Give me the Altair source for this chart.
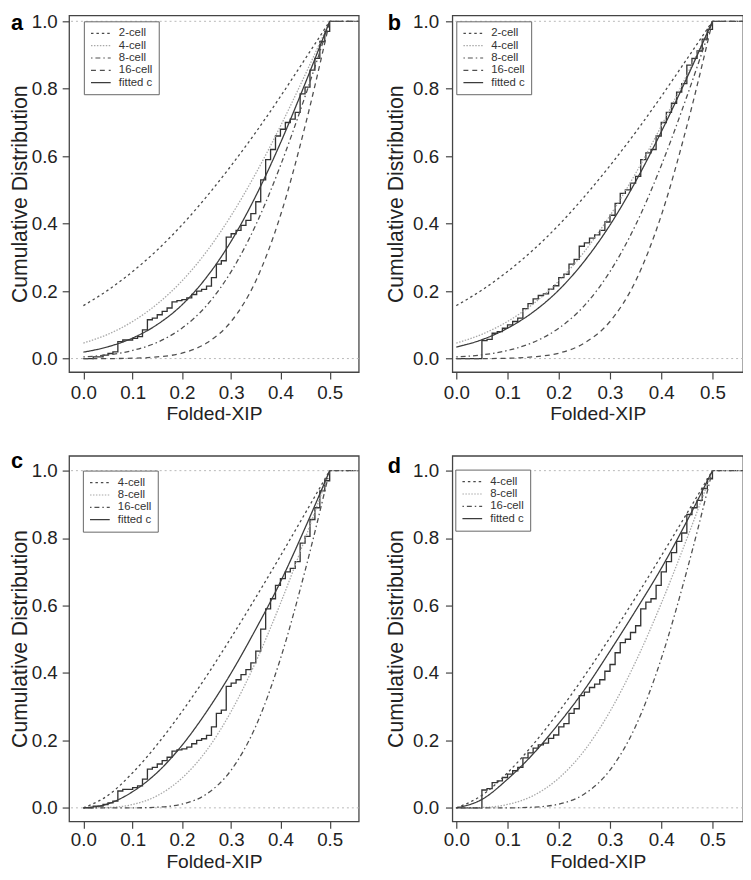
import altair as alt
import pandas as pd

# ---------------- values ----------------
X_CURVE = [0.00, 0.05, 0.10, 0.15, 0.20, 0.25, 0.30, 0.35, 0.40, 0.45, 0.50]
X_TAIL = [0.50, 0.60]
Y_TAIL = [1.0, 1.0]

# panels a / b : model curves
AB_2CELL  = [0.157, 0.203, 0.258, 0.322, 0.396, 0.480, 0.572, 0.671, 0.777, 0.888, 1.0]
AB_4CELL  = [0.046, 0.072, 0.110, 0.162, 0.230, 0.317, 0.424, 0.549, 0.689, 0.841, 1.0]
AB_8CELL  = [0.005, 0.011, 0.024, 0.048, 0.090, 0.157, 0.258, 0.396, 0.572, 0.777, 1.0]
AB_16CELL = [0.000, 0.000, 0.001, 0.005, 0.016, 0.046, 0.110, 0.230, 0.424, 0.689, 1.0]
A_FIT     = [0.019, 0.035, 0.061, 0.101, 0.159, 0.241, 0.348, 0.482, 0.639, 0.815, 1.0]
B_FIT     = [0.034, 0.056, 0.090, 0.138, 0.203, 0.289, 0.396, 0.525, 0.672, 0.832, 1.0]

# panels c / d : model curves
CD_4CELL  = [0.000, 0.037, 0.104, 0.188, 0.285, 0.391, 0.505, 0.624, 0.747, 0.873, 1.0]
CD_8CELL  = [0.000, 0.001, 0.010, 0.036, 0.088, 0.170, 0.286, 0.433, 0.606, 0.798, 1.0]
CD_16CELL = [0.000, 0.000, 0.000, 0.002, 0.011, 0.041, 0.112, 0.242, 0.442, 0.703, 1.0]
C_FIT     = [0.000, 0.012, 0.048, 0.105, 0.185, 0.285, 0.400, 0.530, 0.670, 0.830, 1.0]
D_FIT     = [0.000, 0.025, 0.085, 0.160, 0.250, 0.350, 0.465, 0.585, 0.710, 0.850, 1.0]

# empirical cumulative distributions (step functions)
X_ECDF = [0.00, 0.01, 0.02, 0.03, 0.04, 0.05, 0.06, 0.07, 0.08, 0.09,
          0.10, 0.11, 0.12, 0.13, 0.14, 0.15, 0.16, 0.17, 0.18, 0.19,
          0.20, 0.21, 0.22, 0.23, 0.24, 0.25, 0.26, 0.27, 0.28, 0.29,
          0.30, 0.31, 0.32, 0.33, 0.34, 0.35, 0.36, 0.37, 0.38, 0.39,
          0.40, 0.41, 0.42, 0.43, 0.44, 0.45, 0.46, 0.47, 0.48, 0.49, 0.50]
ECDF_AC = [0.000, 0.000, 0.005, 0.005, 0.010, 0.015, 0.020, 0.050, 0.055, 0.055,
           0.060, 0.065, 0.085, 0.115, 0.120, 0.130, 0.140, 0.150, 0.168, 0.172,
           0.175, 0.180, 0.190, 0.200, 0.205, 0.215, 0.240, 0.280, 0.290, 0.360,
           0.370, 0.380, 0.395, 0.410, 0.430, 0.465, 0.530, 0.590, 0.620, 0.660,
           0.680, 0.700, 0.710, 0.730, 0.785, 0.805, 0.855, 0.890, 0.940, 0.970, 1.000]
ECDF_BD = [0.000, 0.000, 0.000, 0.000, 0.000, 0.053, 0.057, 0.075, 0.080, 0.090,
           0.100, 0.110, 0.120, 0.148, 0.163, 0.177, 0.187, 0.192, 0.206, 0.216,
           0.240, 0.250, 0.280, 0.294, 0.333, 0.343, 0.357, 0.367, 0.380, 0.405,
           0.425, 0.460, 0.490, 0.500, 0.520, 0.540, 0.590, 0.610, 0.620, 0.660,
           0.700, 0.730, 0.757, 0.790, 0.815, 0.870, 0.890, 0.912, 0.947, 0.976, 1.000]

LEVELS = [0.0, 1.0]
X_TICKS = [0.0, 0.1, 0.2, 0.3, 0.4, 0.5]
Y_TICKS = [0.0, 0.2, 0.4, 0.6, 0.8, 1.0]

AB_ORDER = ["2-cell", "4-cell", "8-cell", "16-cell", "fitted c"]
CD_ORDER = ["4-cell", "8-cell", "16-cell", "fitted c"]

# ---------------- styles ----------------
AB_COLORS = ["#4a4a4a", "#a8a8a8", "#505050", "#505050", "#3c3c3c"]
AB_DASHES = [[2.5, 3], [1.5, 1.5], [1.5, 3, 5, 3], [5, 4], [1, 0]]
CD_COLORS = ["#4a4a4a", "#a8a8a8", "#505050", "#3c3c3c"]
CD_DASHES = [[2.5, 3], [1.5, 1.5], [1.5, 3, 5, 3], [1, 0]]

FONT = "Liberation Sans"
TXT = "#222222"


def panel(label, series, order, colors, dashes, ecdf_y, xdom, ydom, w, h,
          y_lp, y_tp, x_lp, x_tp, leg_xy, lab_xy):
    xs = alt.Scale(domain=xdom, nice=False, zero=False)
    ys = alt.Scale(domain=ydom, nice=False, zero=False)
    xaxis = alt.Axis(values=X_TICKS, format=".1f", title="Folded-XIP",
                     grid=False, domain=False, tickSize=7, tickWidth=1.2,
                     tickColor="#444444", labelFontSize=19, labelColor=TXT,
                     labelPadding=x_lp, labelFlush=False, labelOverlap=False,
                     titleFontSize=19.5, titleFontWeight="normal",
                     titleColor=TXT, titlePadding=x_tp)
    yaxis = alt.Axis(values=Y_TICKS, format=".1f",
                     title="Cumulative Distribution", grid=False,
                     domain=False, tickSize=7, tickWidth=1.2,
                     tickColor="#444444", labelFontSize=19, labelColor=TXT,
                     labelPadding=y_lp, labelFlush=False, labelOverlap=False,
                     titleFontSize=21.5, titleFontWeight="normal",
                     titleColor=TXT, titlePadding=y_tp)

    ref = alt.Chart(pd.DataFrame({"level": LEVELS})).mark_rule(
        color="#b8b8b8", strokeDash=[2, 3], strokeWidth=1
    ).encode(y=alt.Y("level:Q", scale=ys, axis=yaxis))

    ecdf = alt.Chart(pd.DataFrame({"x": X_ECDF, "y": ecdf_y})).mark_line(
        interpolate="step-after", color="#333333", strokeWidth=1.35, clip=True
    ).encode(x=alt.X("x:Q", scale=xs, axis=xaxis),
             y=alt.Y("y:Q", scale=ys, axis=yaxis))

    rows, tails = [], []
    for name, vals in series:
        for xv, yv in zip(X_CURVE, vals):
            rows.append({"x": xv, "y": yv, "series": name})
        if name != "fitted c":
            for xv, yv in zip(X_TAIL, Y_TAIL):
                tails.append({"x": xv, "y": yv, "series": name})
    df = pd.DataFrame(rows)
    tdf = pd.DataFrame(tails)

    leg = alt.Legend(title=None, orient="none", legendX=leg_xy[0],
                     legendY=leg_xy[1], symbolType="M-2,0L2,0",
                     symbolSize=100, symbolStrokeWidth=1.2,
                     labelFontSize=11.5, labelFont=FONT, labelColor="#333333",
                     rowPadding=0.5, padding=6.25, strokeColor="#666666",
                     fillColor="white", symbolOffset=5, labelOffset=12.25)
    cscale = alt.Scale(domain=order, range=colors)
    dscale = alt.Scale(domain=order, range=dashes)

    lines = alt.Chart(df).mark_line(
        interpolate="monotone", strokeWidth=1.3, clip=True
    ).encode(
        x=alt.X("x:Q", scale=xs, axis=xaxis),
        y=alt.Y("y:Q", scale=ys, axis=yaxis),
        color=alt.Color("series:N", scale=cscale, legend=leg),
        strokeDash=alt.StrokeDash("series:N", scale=dscale, legend=leg),
    )
    tail = alt.Chart(tdf).mark_line(strokeWidth=1.3, clip=True).encode(
        x=alt.X("x:Q", scale=xs, axis=xaxis),
        y=alt.Y("y:Q", scale=ys, axis=yaxis),
        color=alt.Color("series:N", scale=cscale, legend=leg),
        strokeDash=alt.StrokeDash("series:N", scale=dscale, legend=leg),
    )

    txt = alt.Chart(pd.DataFrame({"t": [label]})).mark_text(
        align="left", baseline="alphabetic", fontSize=22, fontWeight="bold",
        color="black", font=FONT
    ).encode(text="t:N", x=alt.value(lab_xy[0]), y=alt.value(lab_xy[1]))

    return alt.layer(ref, ecdf, tail, lines, txt).properties(width=w, height=h)


AB_Y = [-0.04, 1.0175]
CD_Y = [-0.04, 1.044]
AC_X = [-0.029, 0.559]
BD_X = [-0.0077, 0.5596]

pa = panel("a", list(zip(AB_ORDER, [AB_2CELL, AB_4CELL, AB_8CELL, AB_16CELL, A_FIT])),
           AB_ORDER, AB_COLORS, AB_DASHES, ECDF_AC, AC_X, AB_Y, 294, 362,
           5, 0, 5, 2.5, (15, 6), (-59, 15))
pb = panel("b", list(zip(AB_ORDER, [AB_2CELL, AB_4CELL, AB_8CELL, AB_16CELL, B_FIT])),
           AB_ORDER, AB_COLORS, AB_DASHES, ECDF_BD, BD_X, AB_Y, 295, 362,
           7, 5, 5, 2.5, (4, 6), (-65.5, 15))
pc = panel("c", list(zip(CD_ORDER, [CD_4CELL, CD_8CELL, CD_16CELL, C_FIT])),
           CD_ORDER, CD_COLORS, CD_DASHES, ECDF_AC, AC_X, CD_Y, 294, 371,
           5, 0, 3, 2.5, (14, 15), (-59, 12))
pd_ = panel("d", list(zip(CD_ORDER, [CD_4CELL, CD_8CELL, CD_16CELL, D_FIT])),
            CD_ORDER, CD_COLORS, CD_DASHES, ECDF_BD, BD_X, CD_Y, 295, 371,
            7, 5, 3, 2.5, (3, 14), (-65.5, 17))

indep = dict(color="independent", strokeDash="independent",
             x="independent", y="independent")

chart = alt.concat(
    pa, pb, pc, pd_, columns=2, spacing={"row": 85, "column": 95},
    bounds="flush"
).resolve_scale(**indep).properties(
    padding={"left": 0, "top": -3, "right": -2, "bottom": 0}
).configure(font=FONT).configure_view(
    stroke="#444444", strokeWidth=1.3
).configure_legend(strokeWidth=1)

chart.save("out.html", embed_options={"renderer": "svg", "actions": False})
